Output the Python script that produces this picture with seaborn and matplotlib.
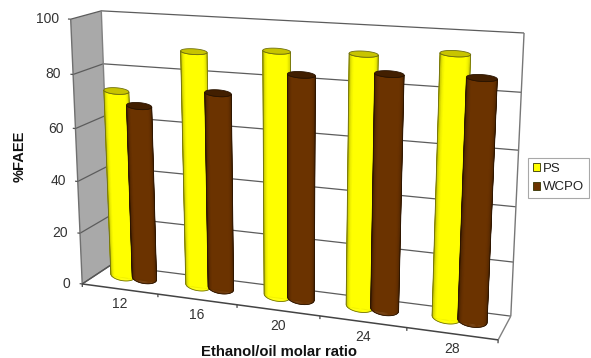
import numpy as np
import pandas as pd
import matplotlib
matplotlib.use("Agg")
import matplotlib.pyplot as plt
from matplotlib.collections import PolyCollection
from matplotlib.patches import Polygon
from matplotlib.transforms import IdentityTransform, Transform
import seaborn as sns

ratios = ["12", "16", "20", "24", "28"]
ps_faee = [72, 88.5, 90.5, 91.3, 93.3]
wcpo_faee = [67, 74, 82.7, 85, 85.7]
series_names = ["PS", "WCPO"]
value_ticks = [0, 20, 40, 60, 80, 100]

W, H = 591, 358
BODY = {"PS": "#ffff00", "WCPO": "#6b3300"}
SHADE = {"PS": "#9a9a00", "WCPO": "#2e1500"}
CAP = {"PS": "#c8c400", "WCPO": "#421f00"}
LINE = {"PS": "#6f6f10", "WCPO": "#2a1400"}

# Camera: (category, value, depth) -> pixel, solved from the box corners
X0, X1 = -0.5, 4.5
box_world = [(X0, 0, 0), (X0, 100, 0), (X0, 0, 1), (X0, 100, 1),
             (X1, 0, 1), (X1, 100, 1), (X1, 0, 0)]
box_pixel = [(83, 284), (70, 19), (110, 265), (102, 11),
             (511, 316), (524, 33), (498, 340)]


def solve_camera(world, pixel):
    rows, rhs = [], []
    for (x, y, z), (u, v) in zip(world, pixel):
        rows.append([x, y, z, 1, 0, 0, 0, 0, -u * x, -u * y, -u * z])
        rows.append([0, 0, 0, 0, x, y, z, 1, -v * x, -v * y, -v * z])
        rhs += [u, v]
    p = np.linalg.lstsq(np.array(rows, float), np.array(rhs, float), rcond=None)[0]
    return np.append(p, 1.0).reshape(3, 4)


CAMERA = solve_camera(box_world, box_pixel)


def project(x, y, z):
    """Return display coordinates (y upward) of points in chart space."""
    x, y, z = np.broadcast_arrays(x, y, z)
    q = np.stack([x, y, z, np.ones_like(x, dtype=float)], axis=-1) @ CAMERA.T
    u = q[..., 0] / q[..., 2]
    v = q[..., 1] / q[..., 2]
    return np.stack([u, H - v], axis=-1)


class DepthPlane(Transform):
    """Maps (category, value) to display coordinates on a plane of fixed depth."""
    input_dims = 2
    output_dims = 2

    def __init__(self, plane_z):
        super().__init__()
        self.plane_z = plane_z

    def transform_non_affine(self, values):
        values = np.asarray(values, float)
        return project(values[:, 0], values[:, 1], self.plane_z)


sns.set_theme(style="white")
plt.rcParams["font.family"] = ["Liberation Sans", "DejaVu Sans"]

df = pd.DataFrame({
    "ratio": ratios * 2,
    "faee": ps_faee + wcpo_faee,
    "series": [series_names[0]] * 5 + [series_names[1]] * 5,
})

fig = plt.figure(figsize=(W / 100, H / 100), dpi=100, facecolor="white")
ax = fig.add_axes([0, 0, 1, 1])
sns.barplot(data=df, x="ratio", y="faee", hue="series", hue_order=series_names,
            palette=BODY, saturation=1, width=0.58, errorbar=None, ax=ax,
            edgecolor="#333300", linewidth=0.6)
ax.set_axis_off()

PIXEL = IdentityTransform()


def line(xs, ys, zs, color="#6a6a6a", lw=1.0, zorder=2):
    pts = project(np.array(xs, float), np.array(ys, float), np.array(zs, float))
    ax.plot(pts[:, 0], pts[:, 1], color=color, lw=lw, transform=PIXEL,
            clip_on=False, zorder=zorder, solid_capstyle="butt")


# Grey side wall
side = project(np.array([X0, X0, X0, X0]), np.array([0, 100, 100, 0.]),
               np.array([0, 0, 1, 1.]))
ax.add_patch(Polygon(side, closed=True, facecolor="#a9a9a9", edgecolor="none",
                     transform=PIXEL, clip_on=False, zorder=1))

# Gridlines run along the side wall and then across the back wall
for v in value_ticks:
    line([X0, X0, X1], [v, v, v], [0, 1, 1], color="#5c5c5c", lw=0.9)
line([X0, X0], [0, 100], [0, 0], color="#707070")
line([X0, X0], [0, 100], [1, 1], color="#808080")
line([X1, X1], [0, 100], [1, 1], color="#777777")
line([X1, X1], [0, 0], [1, 0], color="#808080")
line([X0, X0], [0, 0], [0, 1], color="#555555")
line([X0, X1], [0, 0], [0, 0], color="#444444", lw=1.1, zorder=2)

# Axis ticks and labels
for v in value_ticks:
    line([X0 - 0.035, X0], [v, v], [0, 0], color="#555555", lw=0.9)
    ax.annotate(str(v), xy=(X0, v), xycoords=DepthPlane(0), xytext=(-8.5, 0),
                textcoords="offset points", ha="right", va="center",
                fontsize=10, color="#333333", annotation_clip=False)
for edge in np.arange(X0, X1 + 0.5):
    line([edge, edge], [-1.2, 0], [0, 0], color="#444444", lw=0.9)
for i, label in enumerate(ratios):
    ax.annotate(label, xy=(i, 0), xycoords=DepthPlane(0), xytext=(0, -11),
                textcoords="offset points", ha="center", va="center",
                fontsize=10, color="#333333", annotation_clip=False)

fig.text(20 / W, 1 - 156 / H, "%FAEE", rotation=90, ha="center", va="center",
         fontsize=10.5, fontweight="bold", color="#111111")
fig.text(279 / W, 1 - 352 / H, "Ethanol/oil molar ratio", ha="center",
         va="center", fontsize=10.7, fontweight="bold", color="#111111")


def blend(a, b, t):
    a, b = np.array(matplotlib.colors.to_rgb(a)), np.array(matplotlib.colors.to_rgb(b))
    return a + (b - a) * t


def ellipse_points(cx, value, rx, rz, start=0.0, stop=2 * np.pi, n=60):
    """Upright screen ellipse around a bar axis; t = pi/2 is the nearest point."""
    t = np.linspace(start, stop, n)[:, None]
    center = np.array([project(cx, value, ACROSS_Z)[0], project(cx, value, HEIGHT_Z)[1]])
    half_width = project(cx + rx, value, ACROSS_Z) - project(cx, value, ACROSS_Z)
    half_depth = abs(project(cx, value, HEIGHT_Z + rz)[1] - project(cx, value, HEIGHT_Z - rz)[1]) / 2
    return center + half_width * np.cos(t) - np.array([0, half_depth]) * np.sin(t)


# Each seaborn bar becomes a shaded cylinder; its screen x follows the mid-depth
# plane and its screen y sits a little further back in the box
ACROSS_Z, HEIGHT_Z, RADIUS_Z = 0.5, 0.62, 0.28
mid_plane = DepthPlane(ACROSS_Z)
order = 10
for name, container in zip(series_names, ax.containers):
    for bar in container:
        bar.set_transform(mid_plane)
        bar.set_clip_on(False)
        bar.set_zorder(order)
        cx = bar.get_x() + bar.get_width() / 2
        top = bar.get_y() + bar.get_height()
        rx = bar.get_width() * 0.56

        # Front half of the wall, split into vertical strips
        t = np.linspace(0, np.pi, 41)
        low = ellipse_points(cx, 0, rx, RADIUS_Z, 0, np.pi, 41)
        up = ellipse_points(cx, top, rx, RADIUS_Z, 0, np.pi, 41)
        quads, colors = [], []
        for k in range(40):
            quads.append([low[k], low[k + 1], up[k + 1], up[k]])
            angle = 0.5 * (t[k] + t[k + 1])
            glow = min(1.0, np.sin(angle) ** 0.7 * 1.25)
            colors.append(blend(SHADE[name], BODY[name], glow))
        ax.add_collection(PolyCollection(quads, facecolors=colors, edgecolors=colors,
                                         linewidths=0.3, transform=PIXEL,
                                         clip_on=False, zorder=order + 0.1))
        outline = np.vstack([low, up[::-1], low[:1]])
        ax.add_patch(Polygon(outline, closed=True, facecolor="none", edgecolor=LINE[name],
                             lw=0.6, transform=PIXEL, clip_on=False, zorder=order + 0.2))
        ax.add_patch(Polygon(ellipse_points(cx, top, rx, RADIUS_Z), closed=True,
                             facecolor=CAP[name], edgecolor=LINE[name], lw=0.6,
                             transform=PIXEL, clip_on=False, zorder=order + 0.3))
        order += 1

sns.move_legend(ax, loc="upper left", bbox_to_anchor=(528 / W, 1 - 158 / H),
                bbox_transform=fig.transFigure, title=None, frameon=True,
                fancybox=False, framealpha=1, edgecolor="#a8a8a8", fontsize=9.5,
                handlelength=0.55, handleheight=0.55, handletextpad=0.25,
                labelspacing=0.5, borderpad=0.35, borderaxespad=0)
ax.get_legend().set_zorder(50)
ax.get_legend().get_frame().set_linewidth(0.8)
for text in ax.get_legend().get_texts():
    text.set_color("#222222")

fig.savefig("out.png", dpi=100, facecolor="white")
